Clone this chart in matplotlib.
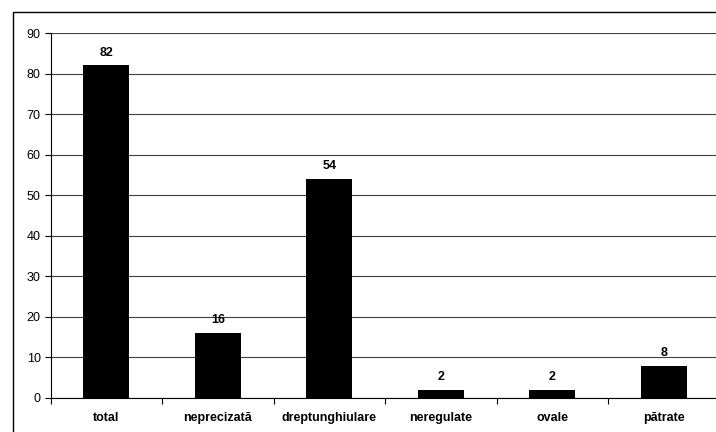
import matplotlib.pyplot as plt
import matplotlib.patches as patches
import numpy as np

# Data
categories = ["total", "neprecizată", "dreptunghiulare", "neregulate", "ovale", "pătrate"]
values = [82, 16, 54, 2, 2, 8]

plt.rcParams['font.family'] = ['Liberation Sans', 'DejaVu Sans']

fig = plt.figure(figsize=(7.16, 4.32), dpi=100)
ax = fig.add_axes([50.5 / 716, 1 - 398 / 432, 669 / 716, 365 / 432])

# Outer chart border (runs off the right and bottom edges like the reference)
fig.patches.append(patches.Rectangle((13 / 716, -0.1), 1.0, 1.1 - 12 / 432,
                                     transform=fig.transFigure, fill=False,
                                     edgecolor="black", linewidth=1.0))

x = np.arange(len(categories))
bars = ax.bar(x, values, width=0.41, color="black", zorder=3)

for bar, v in zip(bars, values):
    ax.annotate(f"{v}", (bar.get_x() + bar.get_width() / 2, v),
                xytext=(0, 5), textcoords="offset points",
                ha="center", va="bottom", fontsize=9, fontweight="bold")

ax.set_xlim(-0.5, len(categories) - 0.5)
ax.set_ylim(0, 90)
ax.set_yticks(range(0, 91, 10))
ax.yaxis.grid(True, color="#404040", linewidth=0.8, zorder=0)

ax.set_xticks(x)
ax.set_xticklabels(categories, fontsize=9, fontweight="bold")
ax.set_xticks(np.arange(-0.5, len(categories)), minor=True)
ax.tick_params(axis="x", which="major", length=0, pad=10)
ax.tick_params(axis="x", which="minor", length=4, direction="out", width=0.8)
ax.tick_params(axis="y", length=4, direction="out", width=0.8, labelsize=9, pad=3)

for side in ["top", "right"]:
    ax.spines[side].set_visible(False)
ax.spines["left"].set_linewidth(0.8)
ax.spines["bottom"].set_linewidth(0.8)

fig.savefig("out.png", dpi=100)
